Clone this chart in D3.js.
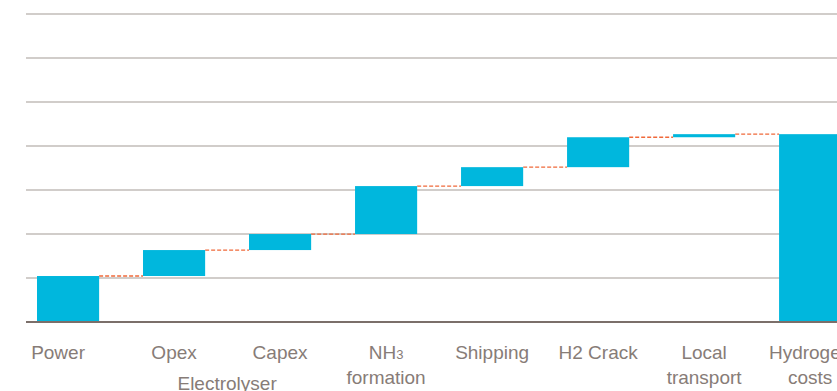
<!DOCTYPE html>
<html>
<head>
<meta charset="utf-8">
<script src="https://cdn.jsdelivr.net/npm/d3@7"></script>
<style>
  html, body { margin: 0; padding: 0; background: #fff; overflow: hidden; }
  svg { display: block; }
</style>
</head>
<body>
<svg id="chart" width="837" height="391"></svg>
<script>
(function () {
    'use strict';

    // waterfall steps (cost contributions), last one is the total
    const categories = ['Power', 'Opex', 'Capex', 'NH3', 'Shipping', 'H2 Crack', 'Local', 'Hydrogen'];
    const stepValues = [1.045, 0.59, 0.364, 1.09, 0.43, 0.68, 0.07];
    const labelLines = [
        ['Power'],
        ['Opex'],
        ['Capex'],
        ['NH|3', 'formation'],
        ['Shipping'],
        ['H2 Crack'],
        ['Local', 'transport'],
        ['Hydrogen', 'costs']
    ];
    const groupLabel = { text: 'Electrolyser', from: 'Opex', to: 'Capex' };
    const yTicks = [0, 1, 2, 3, 4, 5, 6, 7];

    const barColor = '#00b7dd';
    const lineColor = '#f0693a';
    const textColor = '#877c77';

    // build start / end for each bar
    let cu = 0;
    const wf = stepValues.map((v, i) => {
        const d = { ca: categories[i], y0: cu, y1: cu + v };
        cu += v;
        return d;
    });
    wf.push({ ca: categories[categories.length - 1], y0: 0, y1: cu, total: true });

    const sv = d3.select('#chart');
    const le_x = 26;
    const ri_x = 837;

    const x_sc = d3.scaleBand()
        .domain(categories)
        .range([15.8, 862.4])
        .paddingInner(0.414)
        .paddingOuter(0.2);

    const y_sc = d3.scaleLinear()
        .domain([0, 7])
        .range([322, 14]);

    // grid lines
    sv.append('g')
        .selectAll('line')
        .data(yTicks.filter(t => t > 0))
        .enter()
        .append('line')
        .attr('x1', le_x)
        .attr('x2', ri_x)
        .attr('y1', d => y_sc(d))
        .attr('y2', d => y_sc(d))
        .attr('stroke', '#c2bcb9')
        .attr('stroke-width', 1.3);

    // connectors
    sv.append('g')
        .selectAll('line')
        .data(wf.slice(0, -1))
        .enter()
        .append('line')
        .attr('x1', d => x_sc(d.ca) + x_sc.bandwidth())
        .attr('x2', (d, i) => x_sc(categories[i + 1]))
        .attr('y1', d => y_sc(d.y1))
        .attr('y2', d => y_sc(d.y1))
        .attr('stroke', lineColor)
        .attr('stroke-width', 1.3)
        .attr('stroke-dasharray', '4,2');

    // bars
    sv.append('g')
        .selectAll('rect')
        .data(wf)
        .enter()
        .append('rect')
        .attr('x', d => x_sc(d.ca))
        .attr('width', x_sc.bandwidth())
        .attr('y', d => y_sc(d.y1))
        .attr('height', d => y_sc(d.y0) - y_sc(d.y1))
        .attr('fill', barColor);

    // baseline
    sv.append('line')
        .attr('x1', le_x)
        .attr('x2', ri_x)
        .attr('y1', y_sc(0))
        .attr('y2', y_sc(0))
        .attr('stroke', '#7b6f6a')
        .attr('stroke-width', 2);

    // category labels
    const la = sv.append('g')
        .attr('font-family', '"Liberation Sans", Arial, sans-serif')
        .attr('font-size', '19px')
        .attr('fill', textColor)
        .attr('text-anchor', 'middle');

    categories.forEach((ca, i) => {
        const cx = x_sc(ca) + x_sc.bandwidth() / 2;
        labelLines[i].forEach((ln, j) => {
            const t = la.append('text')
                .attr('x', i === 0 ? cx - 10 : cx)
                .attr('y', 359 + j * 24.5);
            const pa = ln.split('|');
            t.append('tspan').text(pa[0]);
            if (pa[1]) t.append('tspan').attr('font-size', '13px').text(pa[1]);
        });
    });

    const gx = (x_sc(groupLabel.from) + x_sc(groupLabel.to) + x_sc.bandwidth()) / 2;
    la.append('text')
        .attr('x', gx)
        .attr('y', 390)
        .text(groupLabel.text);

})();
</script>
</body>
</html>
